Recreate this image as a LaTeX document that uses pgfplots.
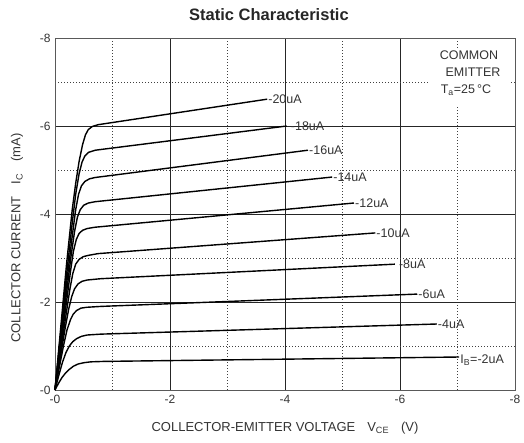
\documentclass[border=0pt]{standalone}
\usepackage{pgfplots}
\pgfplotsset{compat=1.18}
\usepackage{fontspec}
\setmainfont{Liberation Sans}
\begin{document}
\begin{tikzpicture}[x=1pt,y=1pt]
\useasboundingbox (-55,-52) rectangle (469,390);
\begin{axis}[
  at={(0,0)}, anchor=south west,
  scale only axis, width=460pt, height=352pt,
  xmin=-8, xmax=0, ymin=-8, ymax=0,
  x dir=reverse, y dir=reverse,
  xtick={0,-2,-4,-6,-8}, xticklabels={-0,-2,-4,-6,-8},
  ytick={0,-2,-4,-6,-8}, yticklabels={-0,-2,-4,-6,-8},
  minor xtick={-1,-3,-5,-7}, minor ytick={-1,-3,-5,-7},
  grid=both,
  major grid style={black!85, line width=0.7pt},
  minor grid style={black!75, line width=0.7pt, dash pattern=on 0.8pt off 2.2pt},
  major tick length=0pt, minor tick length=0pt,
  axis line style={black!65, line width=0.7pt},
  ticklabel style={font=\fontsize{12}{12}\selectfont, text=black!80},
  xticklabel style={yshift=-2pt},
  yticklabel style={xshift=-1pt},
  clip=false,
]
\pgfplotsset{curve/.style={black, solid, line width=1.4pt, line join=round, mark=none}}
\node[fill=white, inner sep=0pt, minimum width=80pt, minimum height=56pt] at (rel axis cs:0.9,0.886) {};
\node[align=center, font=\fontsize{12.5}{17}\selectfont, text=black!80] at (rel axis cs:0.9,0.90) {COMMON\\\hspace*{8pt}EMITTER\\T\textsubscript{a}=25\,°C\hspace*{6pt}};
% -20uA
\addplot[curve] coordinates {(0,0) (-0.1,-1.42) (-0.2,-2.85) (-0.3,-4.1) (-0.36,-4.7) (-0.42,-5.2) (-0.48,-5.58) (-0.53,-5.8) (-0.58,-5.92) (-0.65,-5.99) (-0.75,-6.03) (-3.69,-6.61)};
% -18uA
\addplot[curve] coordinates {(0,0) (-0.1,-1.3) (-0.2,-2.6) (-0.3,-3.8) (-0.36,-4.45) (-0.42,-4.92) (-0.47,-5.18) (-0.52,-5.32) (-0.58,-5.4) (-0.7,-5.45) (-4.03,-6.0)};
% -16uA
\addplot[curve] coordinates {(0,0) (-0.1,-1.2) (-0.2,-2.4) (-0.3,-3.5) (-0.36,-4.1) (-0.41,-4.45) (-0.46,-4.64) (-0.52,-4.74) (-0.6,-4.8) (-0.7,-4.83) (-4.4,-5.45)};
% -14uA
\addplot[curve] coordinates {(0,0) (-0.1,-1.1) (-0.2,-2.2) (-0.28,-3.05) (-0.34,-3.6) (-0.39,-3.93) (-0.44,-4.1) (-0.5,-4.2) (-0.58,-4.25) (-0.7,-4.28) (-4.82,-4.84)};
% -12uA
\addplot[curve] coordinates {(0,0) (-0.1,-1.0) (-0.2,-2.0) (-0.27,-2.7) (-0.32,-3.15) (-0.37,-3.42) (-0.42,-3.56) (-0.48,-3.63) (-0.56,-3.67) (-0.7,-3.7) (-5.2,-4.25)};
% -10uA
\addplot[curve] coordinates {(0,0) (-0.1,-0.9) (-0.2,-1.78) (-0.26,-2.3) (-0.31,-2.65) (-0.36,-2.86) (-0.42,-2.97) (-0.49,-3.03) (-0.58,-3.06) (-0.75,-3.1) (-5.57,-3.57)};
% -8uA
\addplot[curve] coordinates {(0,0) (-0.1,-0.8) (-0.18,-1.43) (-0.24,-1.85) (-0.29,-2.12) (-0.34,-2.3) (-0.4,-2.41) (-0.47,-2.47) (-0.56,-2.5) (-0.8,-2.53) (-5.91,-2.86)};
% -6uA
\addplot[curve] coordinates {(0,0) (-0.08,-0.55) (-0.15,-1.02) (-0.21,-1.37) (-0.27,-1.6) (-0.32,-1.73) (-0.38,-1.81) (-0.45,-1.86) (-0.55,-1.88) (-0.8,-1.9) (-6.3,-2.18)};
% -4uA
\addplot[curve] coordinates {(0,0) (-0.07,-0.35) (-0.13,-0.63) (-0.19,-0.85) (-0.25,-1.0) (-0.31,-1.1) (-0.38,-1.17) (-0.46,-1.22) (-0.56,-1.25) (-0.8,-1.27) (-6.64,-1.5)};
% -2uA
\addplot[curve] coordinates {(0,0) (-0.06,-0.15) (-0.12,-0.28) (-0.18,-0.38) (-0.25,-0.47) (-0.32,-0.54) (-0.4,-0.59) (-0.5,-0.62) (-0.62,-0.64) (-0.85,-0.65) (-7.03,-0.75)};
\begin{scope}[every node/.style={anchor=west, inner sep=1pt, font=\fontsize{12.5}{12.5}\selectfont, text=black!80}]
\node at (axis cs:-3.69,-6.61) {-20uA};
\node[xshift=3pt] at (axis cs:-4.03,-6.0) {-18uA};
\node at (axis cs:-4.4,-5.45) {-16uA};
\node at (axis cs:-4.82,-4.84) {-14uA};
\node at (axis cs:-5.2,-4.25) {-12uA};
\node at (axis cs:-5.57,-3.57) {-10uA};
\node[xshift=3pt] at (axis cs:-5.91,-2.86) {-8uA};
\node at (axis cs:-6.3,-2.18) {-6uA};
\node at (axis cs:-6.64,-1.5) {-4uA};
\node[anchor=north west] at (axis cs:-7.03,-0.82) {I\textsubscript{B}=-2uA};
\end{scope}
\end{axis}
\node[font=\bfseries\fontsize{16.5}{16.5}\selectfont, text=black!85] at (214,375) {Static Characteristic};
\node[font=\fontsize{13}{13}\selectfont, text=black!80] at (230,-38) {COLLECTOR-EMITTER VOLTAGE\hspace{12pt}V\textsubscript{CE}\hspace{12pt}(V)};
\node[rotate=90, font=\fontsize{13}{13}\selectfont, text=black!80] at (-38,152) {COLLECTOR CURRENT\hspace{12pt}I\textsubscript{C}\hspace{12pt}(mA)};
\end{tikzpicture}
\end{document}
